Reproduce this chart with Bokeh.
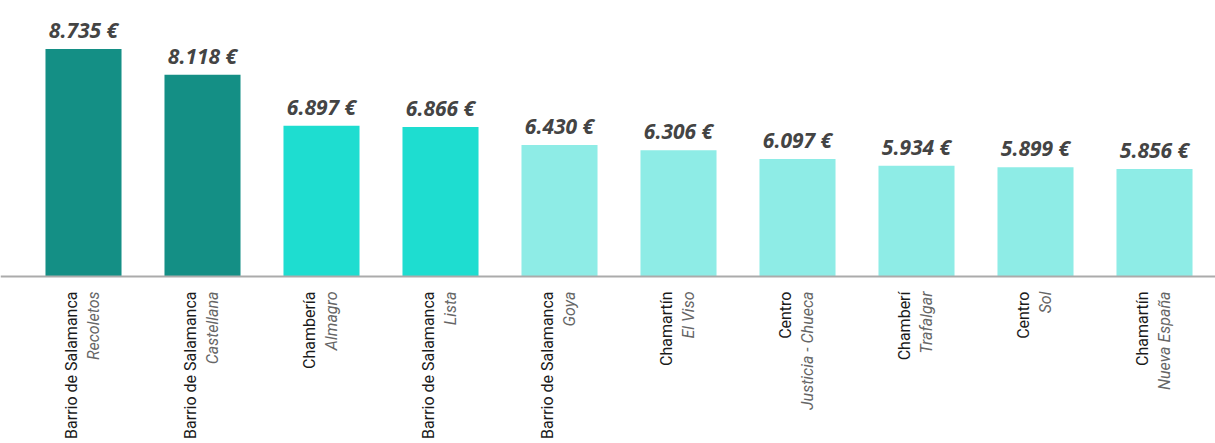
import math
from bokeh.plotting import figure
from bokeh.models import Range1d, Span, ColumnDataSource
from bokeh.core.properties import value
from bokeh.embed import file_html
from bokeh.resources import INLINE

# ---- data ----
districts = ["Barrio de Salamanca", "Barrio de Salamanca", "Chambería", "Barrio de Salamanca",
             "Barrio de Salamanca", "Chamartín", "Centro", "Chamberí", "Centro", "Chamartín"]
neighborhoods = ["Recoletos", "Castellana", "Almagro", "Lista", "Goya", "El Viso",
                 "Justicia - Chueca", "Trafalgar", "Sol", "Nueva España"]
prices = [8735, 8118, 6897, 6866, 6430, 6306, 6097, 5934, 5899, 5856]
price_labels = [f"{v:,}".replace(",", ".") + " €" for v in prices]

# ---- styles ----
bar_colors = ["#148F85", "#148F85", "#1EDDD0", "#1EDDD0", "#8EECE6",
              "#8EECE6", "#8EECE6", "#8EECE6", "#8EECE6", "#8EECE6"]
BASE = 3276  # value axis start (baseline)

src = ColumnDataSource(dict(
    x=list(range(len(prices))), price=prices, label=price_labels,
    district=districts, hood=neighborhoods, color=bar_colors,
))

p = figure(width=1215, height=443, output_backend="svg", toolbar_location=None,
           x_range=Range1d(-0.6975, 9.5126), y_range=Range1d(-732, 9900),
           min_border=0, x_axis_type=None, y_axis_type=None)
p.outline_line_color = None
p.grid.visible = False
p.background_fill_color = "white"

p.vbar(x="x", width=0.639, top="price", bottom=BASE, fill_color="color",
       line_color=None, source=src)

p.add_layout(Span(location=BASE, dimension="width", line_color="#ababab", line_width=2))

p.text(x="x", y="price", text="label", text_align="center", text_baseline="alphabetic",
       y_offset=-19, text_font=value("Open Sans"), text_font_style="bold italic",
       text_font_size="21px", text_color="#444444", source=src)

p.text(x="x", y=BASE, text="district", angle=math.pi / 2, text_align="right",
       text_baseline="middle", x_offset=-12, y_offset=15, text_font=value("Roboto"),
       text_font_size="16px", text_color="#1a1a1a", source=src)

p.text(x="x", y=BASE, text="hood", angle=math.pi / 2, text_align="right",
       text_baseline="middle", x_offset=10, y_offset=15, text_font=value("Roboto"),
       text_font_style="italic", text_font_size="16px", text_color="#666666", source=src)

open("out.html", "w").write(file_html(p, INLINE))
